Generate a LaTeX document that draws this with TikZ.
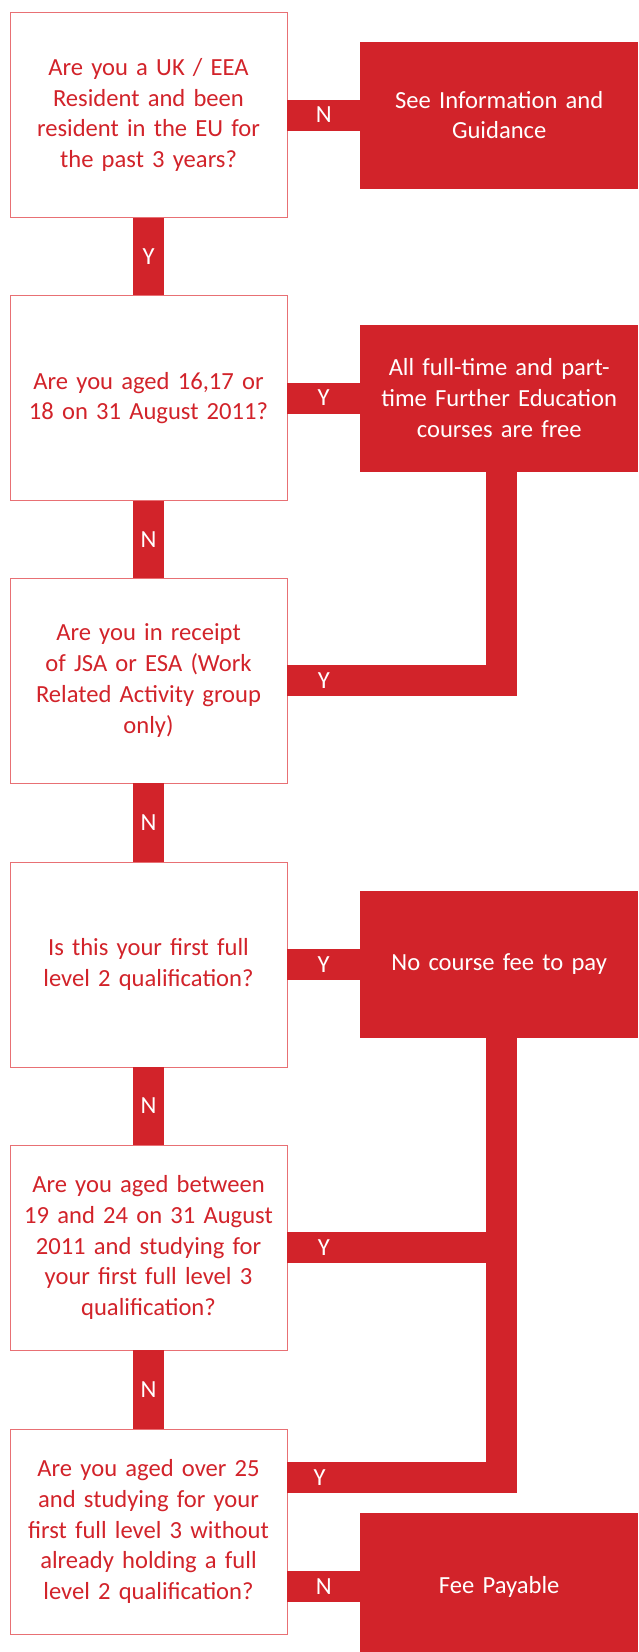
\documentclass[tikz,border=0pt]{standalone}
\usepackage{fontspec}
\setmainfont{Carlito}
\usetikzlibrary{calc}
\definecolor{feered}{RGB}{210,35,42}
\definecolor{feeline}{RGB}{232,112,116}
\tikzset{
QBOX/.style ={draw=feeline,line width=0.9pt,fill=white,text=feered,minimum width=277pt,minimum height=205pt,text width=270pt,align=center,inner sep=0pt,font=\fontsize{24.6}{30.7}\selectfont},
ABOX/.style ={draw=none,fill=feered,text=white,minimum width=278pt,minimum height=147pt,text width=270pt,align=center,inner sep=0pt,anchor=west,font=\fontsize{24.6}{30.7}\selectfont},
LINK/.style ={draw=feered,line join=miter,line cap=butt,miter limit=4.00,line width=31pt},
LBL/.style ={text=white,inner sep=0pt,font=\fontsize{24.6}{30.7}\selectfont},
}
\begin{document}
\begin{tikzpicture}[x=1pt,y=-1pt] %fee flowchart
	\fill[white] (0,0) rectangle (638,1652);
	\useasboundingbox (0,0) rectangle (638,1652);
	\clip (0,0) rectangle (638,1652);
	\node[QBOX] (q1) at (148.5,115) {Are you a UK / EEA\\Resident and been\\resident in the EU for\\the past 3 years?};
	\node[QBOX] (q2) at (148.5,398) {Are you aged 16,17 or\\18 on 31 August 2011?};
	\node[QBOX] (q3) at (148.5,680.5) {Are you in receipt\\of JSA or ESA (Work\\Related Activity group\\only)};
	\node[QBOX] (q4) at (148.5,964.5) {Is this your first full\\level 2 qualification?};
	\node[QBOX] (q5) at (148.5,1247.5) {Are you aged between\\19 and 24 on 31 August\\2011 and studying for\\your first full level 3\\qualification?};
	\node[QBOX] (q6) at (148.5,1531.5) {Are you aged over 25\\and studying for your\\first full level 3 without\\already holding a full\\level 2 qualification?};
	\node[ABOX] (a1) at (360,115) {See Information and\\Guidance};
	\node[ABOX] (a2) at (360,398) {All full-time and part-\\time Further Education\\courses are free};
	\node[ABOX] (a3) at (360,964.5) {No course fee to pay};
	\node[ABOX] (a4) at (360,1586.5) {Fee Payable};
	% down the left
	\path[LINK] (q1.south) -- node[LBL] {Y} (q2.north);
	\path[LINK] (q2.south) -- node[LBL] {N} (q3.north);
	\path[LINK] (q3.south) -- node[LBL] {N} (q4.north);
	\path[LINK] (q4.south) -- node[LBL] {N} (q5.north);
	\path[LINK] (q5.south) -- node[LBL] {N} (q6.north);
	% across to the answers
	\path[LINK] (q1.east) -- node[LBL] {N} (a1.west);
	\path[LINK] (q2.east) -- node[LBL] {Y} (a2.west);
	\path[LINK] (q3.east) -- node[LBL,pos=.17] {Y} ([xshift=2pt]q3.east -| a2.south) -- ([xshift=2pt]a2.south);
	\path[LINK] (q4.east) -- node[LBL] {Y} (a3.west);
	\path[LINK] ($(q6.east)+(0,-53.7)$) coordinate (y6) -- node[LBL,pos=.15] {Y} ([xshift=2pt]y6 -| a3.south) -- ([xshift=2pt]a3.south);
	\path[LINK] (q5.east) -- node[LBL,pos=.17] {Y} ([xshift=2pt]q5.east -| a3.south);
	\path[LINK] (q6.east |- a4.west) -- node[LBL] {N} (a4.west);
\end{tikzpicture}
\end{document}
